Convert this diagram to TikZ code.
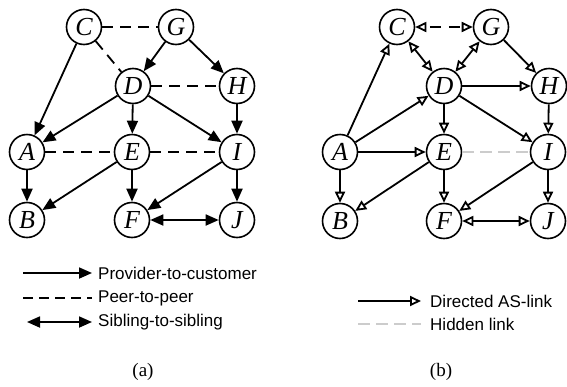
\documentclass[tikz,border=0pt]{standalone}
\usepackage{fontspec}
\setmainfont{Liberation Serif}
\setsansfont{Liberation Sans}
\usetikzlibrary{arrows.meta}
\begin{document}
\begin{tikzpicture}[x=1pt,y=-1pt,
  asn/.style={circle,draw,line width=1.6pt,minimum size=35pt,inner sep=0pt,
    font=\fontsize{26}{26}\selectfont\itshape},
  link/.style={line width=1.8pt},
  pc/.style={link,-{Triangle[length=13pt,width=11pt]}},
  pp/.style={link,dash pattern=on 11pt off 7pt},
  ss/.style={link,{Triangle[length=13pt,width=11pt]}-{Triangle[length=13pt,width=11pt]}},
  dl/.style={link,-{Triangle[open,length=11pt,width=10pt]}},
  dd/.style={link,{Triangle[open,length=11pt,width=10pt]}-{Triangle[open,length=11pt,width=10pt]}},
  hid/.style={line width=1.8pt,black!20,dash pattern=on 12pt off 6pt},
  legtext/.style={font=\sffamily\fontsize{17}{17}\selectfont,anchor=west,inner sep=0pt},
  captext/.style={font=\fontsize{19}{19}\selectfont}
]
\useasboundingbox (0,0) rectangle (567,386);

% ---------- (a) inferred relationships ----------
\node[asn] (aC) at (84,27)   {C};
\node[asn] (aG) at (176,27)  {G};
\node[asn] (aD) at (133,86)  {D};
\node[asn] (aH) at (237,86)  {H};
\node[asn] (aA) at (27,152)  {A};
\node[asn] (aE) at (132,152) {E};
\node[asn] (aI) at (237,152) {I};
\node[asn] (aB) at (27,220)  {B};
\node[asn] (aF) at (132,220) {F};
\node[asn] (aJ) at (237,220) {J};

\draw[pp] (aC) -- (aG);
\draw[pp] (aC) -- (aD);
\draw[pp] (aD) -- (aH);
\draw[pp] (aA) -- (aE);
\draw[pp] (aE) -- (aI);
\draw[pc] (aG) -- (aD);
\draw[pc] (aG) -- (aH);
\draw[pc] (aC) -- (aA);
\draw[pc] (aD) -- (aA);
\draw[pc] (aD) -- (aE);
\draw[pc] (aD) -- (aI);
\draw[pc] (aH) -- (aI);
\draw[pc] (aA) -- (aB);
\draw[pc] (aE) -- (aB);
\draw[pc] (aE) -- (aF);
\draw[pc] (aI) -- (aF);
\draw[pc] (aI) -- (aJ);
\draw[ss] (aF) -- (aJ);

% ---------- (b) directed AS links ----------
\node[asn] (bC) at (397,27)  {C};
\node[asn] (bG) at (491,27)  {G};
\node[asn] (bD) at (444,86)  {D};
\node[asn] (bH) at (549,86)  {H};
\node[asn] (bA) at (340,152) {A};
\node[asn] (bE) at (444,152) {E};
\node[asn] (bI) at (548,152) {I};
\node[asn] (bB) at (340,221) {B};
\node[asn] (bF) at (444,221) {F};
\node[asn] (bJ) at (548,221) {J};

\draw[dd,dash pattern=on 11pt off 8pt,dash phase=-4pt] (bC) -- (bG);
\draw[dd] (bC) -- (bD);
\draw[dd] (bG) -- (bD);
\draw[hid] (bE) -- (bI);
\draw[dl] (bA) -- (bC);
\draw[dl] (bA) -- (bD);
\draw[dl] (bA) -- (bE);
\draw[dl] (bA) -- (bB);
\draw[dl] (bG) -- (bH);
\draw[dl] (bD) -- (bH);
\draw[dl] (bD) -- (bE);
\draw[dl] (bD) -- (bI);
\draw[dl] (bH) -- (bI);
\draw[dl] (bE) -- (bB);
\draw[dl] (bE) -- (bF);
\draw[dl] (bI) -- (bF);
\draw[dl] (bI) -- (bJ);
\draw[dd] (bF) -- (bJ);

% ---------- legends ----------
\coordinate (l1s) at (23,273); \coordinate (l1e) at (92,273);
\coordinate (l2s) at (23,298); \coordinate (l2e) at (92,298);
\coordinate (l3s) at (27,322); \coordinate (l3e) at (92,322);
\draw[pc] (l1s) -- (l1e);
\draw[pp,dash pattern=on 10pt off 6pt] (l2s) -- (l2e);
\draw[ss] (l3s) -- (l3e);
\node[legtext] (t1) at (98,273) {Provider-to-customer};
\node[legtext] (t2) at (98,298) {Peer-to-peer};
\node[legtext] (t3) at (98,322) {Sibling-to-sibling};

\coordinate (r1s) at (358,301); \coordinate (r1e) at (421,301);
\coordinate (r2s) at (358,324); \coordinate (r2e) at (421,324);
\draw[dl] (r1s) -- (r1e);
\draw[hid] (r2s) -- (r2e);
\node[legtext] (u1) at (430,301) {Directed AS-link};
\node[legtext] (u2) at (430,324) {Hidden link};

% ---------- captions ----------
\node[captext] (capa) at (143,372) {(a)};
\node[captext] (capb) at (441,372) {(b)};
\end{tikzpicture}
\end{document}
